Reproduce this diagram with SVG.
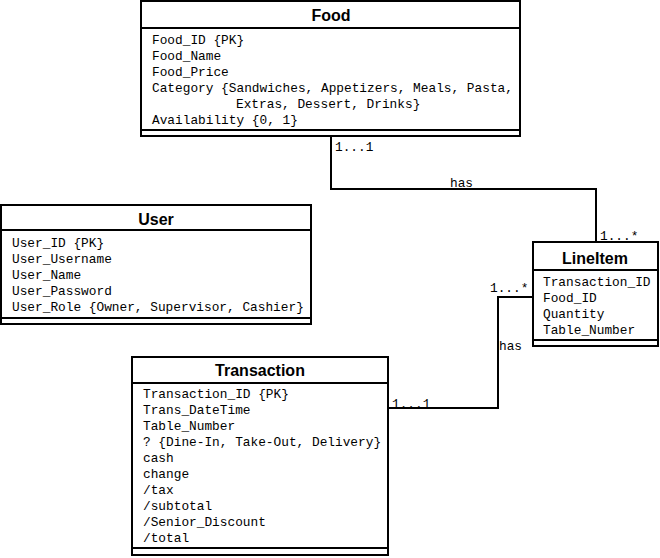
<svg xmlns="http://www.w3.org/2000/svg" width="660" height="558" viewBox="0 0 660 558">
<style>
.box{fill:#fff;stroke:#000;stroke-width:2}
.sep{stroke:#000;stroke-width:2}
.title{font-family:"Liberation Sans",Arial,sans-serif;font-weight:bold;font-size:16px;text-anchor:middle;fill:#000}
.attr{font-family:"Liberation Mono","Courier New",monospace;font-size:12.8px;fill:#000}
.conn{fill:none;stroke:#000;stroke-width:2}
</style>
<rect width="660" height="558" fill="#fff"/>
<g id="connectors">
<polyline class="conn" points="331,136 331,189 596,189 596,242"/>
<polyline class="conn" points="388,408 498,408 498,297 533,297"/>
<text class="attr" x="335" y="151">1...1</text>
<text class="attr" x="450" y="187">has</text>
<text class="attr" x="600" y="240">1...*</text>
<text class="attr" x="490" y="292">1...*</text>
<text class="attr" x="499" y="350">has</text>
<text class="attr" x="392" y="408">1...1</text>
</g>
<g id="food">
<rect class="box" x="141" y="1" width="379" height="135"/>
<line class="sep" x1="141" y1="28" x2="520" y2="28"/>
<line class="sep" x1="141" y1="130" x2="520" y2="130"/>
<text class="title" x="331" y="21">Food</text>
<text class="attr" x="152" y="44">Food_ID {PK}</text>
<text class="attr" x="152" y="60">Food_Name</text>
<text class="attr" x="152" y="76">Food_Price</text>
<text class="attr" x="152" y="92">Category {Sandwiches, Appetizers, Meals, Pasta,</text>
<text class="attr" x="236" y="108">Extras, Dessert, Drinks}</text>
<text class="attr" x="152" y="124">Availability {0, 1}</text>
</g>
<g id="user">
<rect class="box" x="1" y="205" width="310" height="119"/>
<line class="sep" x1="1" y1="230" x2="311" y2="230"/>
<line class="sep" x1="1" y1="318" x2="311" y2="318"/>
<text class="title" x="156" y="225">User</text>
<text class="attr" x="12" y="247">User_ID {PK}</text>
<text class="attr" x="12" y="263">User_Username</text>
<text class="attr" x="12" y="279">User_Name</text>
<text class="attr" x="12" y="295">User_Password</text>
<text class="attr" x="12" y="311">User_Role {Owner, Supervisor, Cashier}</text>
</g>
<g id="lineitem">
<rect class="box" x="533" y="242" width="125" height="104"/>
<line class="sep" x1="533" y1="270" x2="658" y2="270"/>
<line class="sep" x1="533" y1="340" x2="658" y2="340"/>
<text class="title" x="595" y="264">LineItem</text>
<text class="attr" x="543" y="286">Transaction_ID</text>
<text class="attr" x="543" y="302">Food_ID</text>
<text class="attr" x="543" y="318">Quantity</text>
<text class="attr" x="543" y="334">Table_Number</text>
</g>
<g id="transaction">
<rect class="box" x="132" y="357" width="256" height="198"/>
<line class="sep" x1="132" y1="383" x2="388" y2="383"/>
<line class="sep" x1="132" y1="548" x2="388" y2="548"/>
<text class="title" x="260" y="376">Transaction</text>
<text class="attr" x="143" y="398">Transaction_ID {PK}</text>
<text class="attr" x="143" y="414">Trans_DateTime</text>
<text class="attr" x="143" y="430">Table_Number</text>
<text class="attr" x="143" y="446">? {Dine-In, Take-Out, Delivery}</text>
<text class="attr" x="143" y="462">cash</text>
<text class="attr" x="143" y="478">change</text>
<text class="attr" x="143" y="494">/tax</text>
<text class="attr" x="143" y="510">/subtotal</text>
<text class="attr" x="143" y="526">/Senior_Discount</text>
<text class="attr" x="143" y="542">/total</text>
</g>
</svg>
